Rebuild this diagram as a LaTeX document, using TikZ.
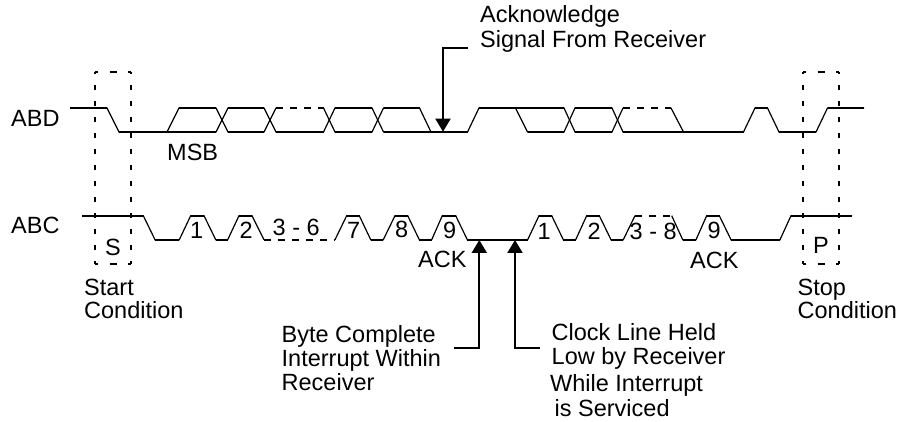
\documentclass[tikz,border=0pt]{standalone}
\usepackage{fontspec}
\setmainfont{Liberation Sans}
\usetikzlibrary{arrows.meta}
\tikzset{
  x=1pt,y=-1pt,
  sig/.style={line width=1.2pt,line join=miter},
  hor/.style={line width=1.9pt},
  dsh/.style={line width=1.9pt,dash pattern=on 6.5pt off 7.5pt},
  boxside/.style={line width=1.9pt,dash pattern=on 4.5pt off 11.5pt,dash phase=2.25pt},
  boxcap/.style={line width=1.9pt,dash pattern=on 7.3pt off 11.2pt,dash phase=3.65pt},
  lbl/.style={inner sep=0pt,font=\fontsize{23.5}{25}\selectfont,align=left,anchor=base west},
  callout/.style={line width=2pt,-{Triangle[length=13pt,width=15pt]}},
}
\begin{document}
\begin{tikzpicture}
\useasboundingbox (0,0) rectangle (900,422);
% coordinates for free connector ends
\coordinate (topa) at (468,48);
\coordinate (topb) at (443,48);
\coordinate (topc) at (443,131.7);
\coordinate (la) at (454,348);
\coordinate (lb) at (479.3,348);
\coordinate (lc) at (479.3,240);
\coordinate (ra) at (540,348);
\coordinate (rb) at (515,348);
\coordinate (rc) at (515,240);
% boxes
\foreach \x/\y in {94.7/131,802.7/839}{
  \draw[boxside] (\x,71.7) -- (\x,263.7);
  \draw[boxside] (\y,71.7) -- (\y,263.7);
  \draw[boxcap] (\x,71.7) -- (\y,71.7);
  \draw[boxcap] (\x,263.7) -- (\y,263.7);
}
% ABD slopes
\draw[sig] (70,108) -- (107,108) -- (119,132) -- (167,132) -- (179,108) -- (216,108) -- (228,132) -- (264,132) -- (276,108);
\draw[sig] (167,132) -- (216,132) -- (228,108) -- (264,108) -- (276,132) -- (323.5,132) -- (335,108) -- (372,108) -- (383.5,132) -- (431,132) -- (467.5,132) -- (479,108) -- (564,108) -- (575,132) -- (612,132) -- (623,108);
\draw[sig] (323.5,108) -- (335,132) -- (372,132) -- (383.5,108) -- (419.5,108) -- (431,132);
\draw[sig] (515.5,108) -- (527.5,132) -- (564,132) -- (575,108) -- (612,108) -- (623,132) -- (683.5,132) -- (743.5,132) -- (755,108) -- (767.5,108) -- (779,132) -- (816,132) -- (827.5,108) -- (864,108);
\draw[sig] (671,108) -- (683.5,132);
\foreach \a/\b in {70/107,179/216,228/264,335/372,383.5/419.5,479/564,575/612,755/767.5,827.5/864}
  \draw[hor] (\a,108) -- (\b,108);
\foreach \a/\b in {119/216,228/264,276/323.5,335/372,383.5/467.5,527.5/564,575/612,623/743.5,779/816}
  \draw[hor] (\a,132) -- (\b,132);
\draw[dsh] (276,108) -- (323.5,108);
\draw[dsh] (623,108) -- (671,108);
% ABC slopes
\draw[sig] (82,215.7) -- (143.3,215.7) -- (155,239.7) -- (179.3,239.7) -- (190.7,215.7) -- (204,215.7) -- (215.7,239.7) -- (227.7,239.7) -- (239,215.7) -- (252,215.7) -- (264,239.7);
\draw[sig] (335,239.7) -- (346.7,215.7) -- (359.3,215.7) -- (370.7,239.7) -- (383.3,239.7) -- (395,215.7) -- (407.7,215.7) -- (419.3,239.7) -- (431.7,239.7) -- (442.3,215.7) -- (455.7,215.7) -- (467.3,239.7) -- (527.7,239.7) -- (539,215.7) -- (551.7,215.7) -- (563.3,239.7) -- (575.7,239.7) -- (586.7,215.7) -- (599.3,215.7) -- (611,239.7) -- (623.3,239.7) -- (635,215.7);
\draw[sig] (671.7,215.7) -- (682.7,239.7) -- (696,239.7) -- (706.7,215.7) -- (719.3,215.7) -- (731,239.7) -- (780,239.7) -- (791,215.7) -- (852,215.7);
\foreach \a/\b in {82/143.3,190.7/204,239/252,346.7/359.3,395/407.7,442.3/455.7,539/551.7,586.7/599.3,706.7/719.3,791/852}
  \draw[hor] (\a,215.7) -- (\b,215.7);
\foreach \a/\b in {155/179.3,215.7/227.7,370.7/383.3,419.3/431.7,467.3/527.7,563.3/575.7,611/623.3,682.7/696,731/780}
  \draw[hor] (\a,239.7) -- (\b,239.7);
\draw[dsh] (264,239.7) -- (335,239.7);
\draw[dsh] (635,215.7) -- (671.7,215.7);
% callouts
\draw[callout] (topa) -- (topb) -- (topc);
\draw[callout] (la) -- (lb) -- (lc);
\draw[callout] (ra) -- (rb) -- (rc);
% labels
\node[lbl] (n1) at (480,23) {Acknowledge};
\node[lbl] (n2) at (480,47.5) {Signal From Receiver};
\node[lbl] (abd) at (11,126.5) {ABD};
\node[lbl] (abc) at (11,234) {ABC};
\node[lbl] (msb) at (167,160.5) {MSB};
\node[lbl] (s) at (105,255.5) {S};
\node[lbl] (sc1) at (84,295) {Start};
\node[lbl] (sc2) at (84,318.3) {Condition};
\node[lbl] (p) at (813,254) {P};
\node[lbl] (pc1) at (797.5,295) {Stop};
\node[lbl] (pc2) at (797.5,318.3) {Condition};
\node[lbl] (d1) at (190,239) {1};
\node[lbl] (d2) at (239.5,239) {2};
\node[lbl] (d36) at (272.5,236) {3 - 6};
\node[lbl] (d7) at (347,239) {7};
\node[lbl] (d8) at (395,237.5) {8};
\node[lbl] (d9) at (443,239) {9};
\node[lbl] (ack1) at (418,267.5) {ACK};
\node[lbl] (e1) at (537.5,240) {1};
\node[lbl] (e2) at (587.5,240) {2};
\node[lbl] (d38) at (629.5,240) {3 - 8};
\node[lbl] (e9) at (707.5,239) {9};
\node[lbl] (ack2) at (690,269) {ACK};
\node[lbl] (b1) at (281.5,342.7) {Byte Complete};
\node[lbl] (b2) at (281.5,366.7) {Interrupt Within};
\node[lbl] (b3) at (281.5,390.7) {Receiver};
\node[lbl] (c1) at (551.5,340.7) {Clock Line Held};
\node[lbl] (c2) at (551.5,364.3) {Low by Receiver};
\node[lbl] (c3) at (550,391.5) {While Interrupt};
\node[lbl] (c4) at (554.5,416.5) {is Serviced};
\end{tikzpicture}
\end{document}
